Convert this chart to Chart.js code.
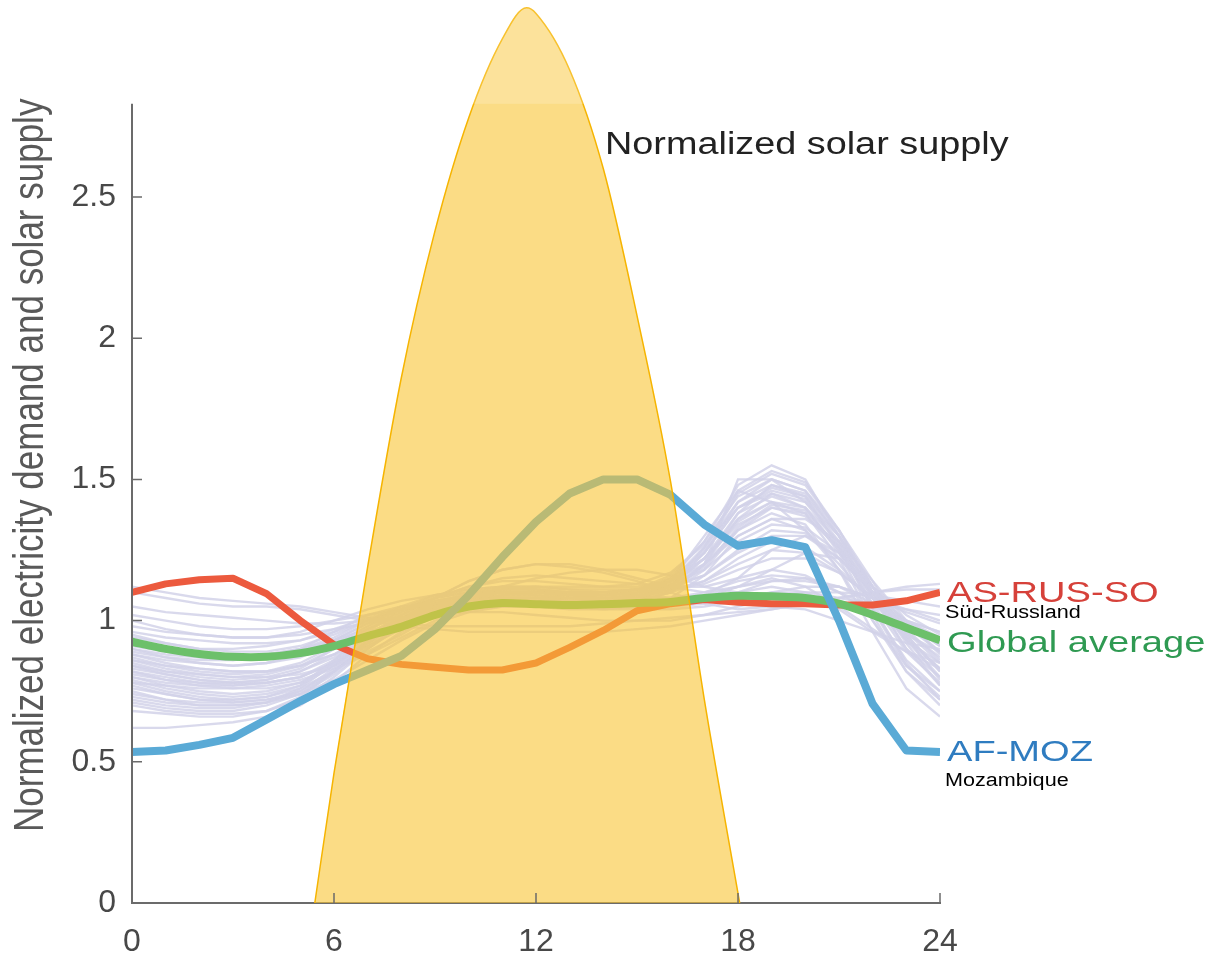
<!DOCTYPE html>
<html>
<head>
<meta charset="utf-8">
<title>Electricity demand and solar supply</title>
<script src="https://cdn.jsdelivr.net/npm/chart.js@4.4.1/dist/chart.umd.min.js"></script>
<style>
  html, body { margin: 0; padding: 0; background: #fff; }
  #wrap { width: 1206px; height: 957px; }
</style>
</head>
<body>
<div id="wrap"><canvas id="demandChart" width="1206" height="957"></canvas></div>
<script>
// hour of day
var hours = [0, 1, 2, 3, 4, 5, 6, 7, 8, 9, 10, 11, 12, 13, 14, 15, 16, 17, 18, 19, 20, 21, 22, 23, 24];
var xTicks = [0, 6, 12, 18, 24];
var yTicks = [0, 0.5, 1, 1.5, 2, 2.5];
var yAxisTop = 2.83;

// highlighted regions
var rusSouth = [1.10, 1.13, 1.145, 1.15, 1.095, 1.00, 0.915, 0.865, 0.845, 0.835, 0.825, 0.825, 0.85,
  0.905, 0.965, 1.035, 1.06, 1.075, 1.065, 1.06, 1.06, 1.055, 1.055, 1.07, 1.10];
var globalAvg = [0.925, 0.90, 0.882, 0.872, 0.872, 0.885, 0.91, 0.945, 0.978, 1.02, 1.05, 1.062, 1.058,
  1.055, 1.058, 1.062, 1.066, 1.08, 1.088, 1.086, 1.08, 1.06, 1.02, 0.975, 0.93];
var mozambique = [0.535, 0.54, 0.56, 0.585, 0.65, 0.715, 0.775, 0.825, 0.875, 0.97, 1.09, 1.225, 1.35,
  1.45, 1.50, 1.50, 1.445, 1.34, 1.265, 1.285, 1.26, 1.0, 0.705, 0.54, 0.535];

// solar supply curve
var solarHours = [5.43, 6, 7, 8, 9, 10, 11, 11.72, 12, 13, 14, 15, 16, 17, 18.05];
var solarSupply = [0, 0.46, 1.19, 1.86, 2.38, 2.78, 3.06, 3.17, 3.15, 2.95, 2.6, 2.08, 1.49, 0.72, 0];

// all other regions (thin background lines)
var regionProfiles = [
  [0.80,0.77,0.75,0.74,0.75,0.78,0.85,0.93,1.00,1.04,1.06,1.07,1.07,1.06,1.06,1.07,1.10,1.20,1.38,1.48,1.45,1.30,1.12,0.95,0.82],
  [0.85,0.82,0.80,0.79,0.80,0.83,0.90,0.97,1.02,1.05,1.07,1.08,1.08,1.07,1.07,1.08,1.12,1.22,1.35,1.42,1.38,1.25,1.10,0.97,0.86],
  [0.78,0.75,0.73,0.72,0.73,0.76,0.82,0.90,0.98,1.04,1.08,1.10,1.10,1.09,1.09,1.10,1.14,1.25,1.45,1.52,1.48,1.32,1.12,0.93,0.80],
  [0.90,0.87,0.85,0.84,0.85,0.88,0.93,0.99,1.04,1.07,1.09,1.10,1.10,1.09,1.09,1.09,1.10,1.14,1.22,1.28,1.26,1.18,1.08,0.99,0.91],
  [0.95,0.92,0.90,0.89,0.89,0.91,0.95,1.00,1.04,1.06,1.07,1.08,1.08,1.08,1.08,1.08,1.08,1.10,1.14,1.16,1.15,1.10,1.05,1.00,0.96],
  [0.75,0.72,0.70,0.70,0.71,0.75,0.83,0.93,1.02,1.08,1.12,1.14,1.14,1.13,1.12,1.12,1.14,1.22,1.36,1.42,1.40,1.28,1.10,0.92,0.77],
  [0.88,0.86,0.85,0.84,0.85,0.87,0.92,0.98,1.03,1.08,1.12,1.15,1.16,1.15,1.14,1.13,1.12,1.12,1.15,1.18,1.16,1.10,1.02,0.95,0.89],
  [1.02,1.00,0.98,0.97,0.97,0.98,1.00,1.02,1.04,1.05,1.06,1.06,1.05,1.05,1.05,1.05,1.05,1.06,1.08,1.10,1.10,1.08,1.06,1.04,1.02],
  [1.10,1.08,1.06,1.05,1.05,1.04,1.02,1.00,0.98,0.97,0.96,0.96,0.96,0.96,0.96,0.97,0.98,1.00,1.02,1.04,1.06,1.08,1.10,1.11,1.11],
  [0.70,0.68,0.67,0.67,0.68,0.72,0.80,0.90,0.99,1.05,1.08,1.10,1.10,1.09,1.09,1.10,1.15,1.28,1.48,1.55,1.50,1.30,1.05,0.85,0.72],
  [0.82,0.80,0.78,0.77,0.78,0.80,0.85,0.92,1.00,1.08,1.14,1.18,1.20,1.20,1.18,1.15,1.12,1.10,1.12,1.15,1.12,1.05,0.97,0.89,0.83],
  [0.92,0.89,0.87,0.86,0.87,0.90,0.96,1.02,1.05,1.06,1.06,1.06,1.05,1.04,1.04,1.05,1.08,1.16,1.30,1.36,1.32,1.20,1.06,0.97,0.92],
  [0.76,0.74,0.72,0.72,0.73,0.77,0.86,0.96,1.04,1.09,1.11,1.12,1.11,1.10,1.10,1.11,1.15,1.24,1.40,1.46,1.43,1.28,1.08,0.90,0.77],
  [0.98,0.96,0.95,0.94,0.94,0.95,0.97,0.99,1.01,1.03,1.04,1.05,1.05,1.05,1.04,1.04,1.04,1.05,1.07,1.10,1.12,1.12,1.08,1.03,0.99],
  [0.84,0.82,0.81,0.80,0.80,0.81,0.84,0.89,0.95,1.02,1.08,1.12,1.15,1.17,1.18,1.18,1.16,1.12,1.10,1.12,1.10,1.04,0.96,0.89,0.85],
  [0.72,0.70,0.69,0.69,0.71,0.76,0.85,0.95,1.02,1.06,1.08,1.08,1.07,1.06,1.06,1.07,1.10,1.18,1.32,1.40,1.38,1.22,1.00,0.82,0.72],
  [1.05,1.03,1.02,1.01,1.00,0.99,0.99,1.00,1.01,1.02,1.03,1.03,1.02,1.01,1.00,1.00,1.00,1.02,1.05,1.08,1.10,1.10,1.09,1.07,1.05],
  [0.86,0.83,0.81,0.80,0.81,0.84,0.90,0.97,1.03,1.07,1.09,1.10,1.10,1.10,1.10,1.11,1.13,1.18,1.28,1.34,1.33,1.24,1.10,0.96,0.87],
  [0.80,0.78,0.77,0.77,0.78,0.80,0.85,0.91,0.97,1.01,1.04,1.06,1.06,1.06,1.06,1.07,1.10,1.20,1.50,1.50,1.42,1.30,1.12,0.95,0.82],
  [0.94,0.92,0.90,0.90,0.91,0.93,0.97,1.01,1.04,1.06,1.07,1.07,1.06,1.05,1.05,1.05,1.06,1.08,1.12,1.18,1.24,1.22,1.12,1.02,0.95],
  [0.68,0.67,0.66,0.66,0.68,0.73,0.82,0.92,1.00,1.05,1.07,1.08,1.08,1.07,1.07,1.08,1.12,1.22,1.38,1.44,1.40,1.24,1.02,0.82,0.70],
  [0.90,0.88,0.87,0.87,0.88,0.90,0.93,0.97,1.02,1.08,1.14,1.18,1.20,1.19,1.17,1.14,1.10,1.06,1.04,1.05,1.04,1.00,0.96,0.92,0.90],
  [1.12,1.10,1.08,1.07,1.06,1.05,1.03,1.01,0.99,0.98,0.98,0.98,0.98,0.98,0.99,1.00,1.01,1.02,1.03,1.04,1.06,1.08,1.10,1.12,1.13],
  [0.88,0.85,0.83,0.82,0.82,0.84,0.88,0.94,1.00,1.05,1.08,1.09,1.09,1.09,1.09,1.10,1.12,1.16,1.24,1.30,1.30,1.22,1.10,0.98,0.89],
  [0.78,0.77,0.76,0.76,0.77,0.79,0.83,0.88,0.94,1.00,1.04,1.06,1.07,1.07,1.07,1.08,1.12,1.26,1.42,1.50,1.46,1.32,1.14,0.94,0.79],
  [0.96,0.94,0.93,0.92,0.92,0.93,0.96,1.00,1.04,1.07,1.09,1.10,1.10,1.09,1.08,1.08,1.08,1.09,1.12,1.14,1.14,1.12,1.06,1.00,0.96],
  [0.74,0.72,0.71,0.71,0.72,0.74,0.79,0.86,0.93,0.99,1.03,1.05,1.06,1.06,1.06,1.08,1.14,1.30,1.46,1.42,1.32,1.18,1.00,0.84,0.75],
  [0.82,0.79,0.77,0.76,0.76,0.78,0.84,0.92,1.00,1.06,1.10,1.12,1.12,1.11,1.10,1.09,1.08,1.09,1.15,1.25,1.30,1.24,1.10,0.94,0.83],
  [0.62,0.62,0.63,0.64,0.66,0.70,0.78,0.88,0.96,1.02,1.06,1.08,1.08,1.08,1.08,1.09,1.12,1.20,1.32,1.38,1.34,1.18,0.96,0.76,0.66],
  [1.00,0.97,0.95,0.94,0.94,0.96,1.00,1.04,1.07,1.09,1.10,1.10,1.09,1.08,1.07,1.06,1.06,1.07,1.10,1.14,1.15,1.12,1.08,1.04,1.00],
  [0.83,0.81,0.79,0.78,0.79,0.82,0.88,0.95,1.01,1.05,1.08,1.09,1.09,1.08,1.08,1.09,1.13,1.24,1.40,1.47,1.44,1.30,1.12,0.96,0.85],
  [0.79,0.76,0.74,0.73,0.74,0.77,0.84,0.93,1.01,1.06,1.09,1.11,1.11,1.10,1.10,1.11,1.16,1.28,1.44,1.50,1.46,1.30,1.09,0.90,0.80],
  [0.87,0.84,0.82,0.81,0.82,0.85,0.91,0.98,1.04,1.08,1.10,1.11,1.11,1.10,1.10,1.11,1.14,1.22,1.34,1.40,1.37,1.26,1.12,0.99,0.89],
  [0.73,0.71,0.70,0.70,0.71,0.74,0.81,0.90,0.98,1.03,1.06,1.07,1.07,1.07,1.07,1.08,1.12,1.24,1.42,1.48,1.44,1.26,1.04,0.86,0.75],
  [0.91,0.89,0.88,0.87,0.88,0.90,0.94,1.00,1.05,1.09,1.11,1.12,1.12,1.11,1.11,1.11,1.12,1.16,1.25,1.32,1.31,1.22,1.10,1.00,0.93],
  [0.81,0.79,0.78,0.78,0.79,0.82,0.87,0.94,1.00,1.04,1.06,1.07,1.07,1.07,1.07,1.08,1.11,1.19,1.33,1.41,1.39,1.26,1.08,0.93,0.83],
  [0.77,0.74,0.72,0.71,0.72,0.75,0.82,0.91,0.99,1.05,1.09,1.11,1.12,1.12,1.12,1.13,1.17,1.27,1.40,1.45,1.40,1.25,1.06,0.89,0.78],
  [0.86,0.84,0.83,0.82,0.82,0.84,0.88,0.94,1.00,1.05,1.08,1.10,1.10,1.10,1.10,1.11,1.14,1.20,1.30,1.36,1.36,1.28,1.14,1.00,0.88],
  [0.93,0.90,0.88,0.87,0.87,0.89,0.93,0.99,1.04,1.08,1.10,1.11,1.11,1.10,1.10,1.10,1.11,1.14,1.20,1.25,1.24,1.17,1.08,1.00,0.94],
  [0.71,0.69,0.68,0.68,0.70,0.74,0.82,0.92,1.00,1.05,1.07,1.08,1.08,1.07,1.07,1.08,1.11,1.20,1.36,1.45,1.42,1.27,1.04,0.84,0.73],
  [0.89,0.87,0.86,0.86,0.87,0.89,0.92,0.96,1.00,1.04,1.07,1.09,1.10,1.10,1.10,1.10,1.11,1.13,1.18,1.22,1.22,1.17,1.08,0.99,0.91],
  [0.84,0.81,0.79,0.78,0.78,0.80,0.86,0.94,1.01,1.06,1.09,1.10,1.10,1.09,1.09,1.10,1.14,1.26,1.46,1.53,1.49,1.32,1.10,0.93,0.85]
];

function toPoints(xs, ys) {
  return ys.map(function (v, i) { return { x: xs[i], y: v }; });
}

var datasets = [];

datasets.push({
  label: 'Normalized solar supply',
  data: toPoints(solarHours, solarSupply),
  borderColor: '#f6b400',
  borderWidth: 1.5,
  backgroundColor: 'rgba(248, 197, 52, 0.6)',
  fill: 'origin',
  cubicInterpolationMode: 'monotone',
  pointRadius: 0,
  clip: false,
  order: 0
});

datasets.push({
  label: 'AF-MOZ',
  data: toPoints(hours, mozambique),
  borderColor: '#5aaad6',
  borderWidth: 8,
  borderJoinStyle: 'round',
  pointRadius: 0,
  order: 1
});
datasets.push({
  label: 'Global average',
  data: toPoints(hours, globalAvg),
  borderColor: '#6cc06a',
  borderWidth: 8,
  borderJoinStyle: 'round',
  tension: 0.2,
  pointRadius: 0,
  order: 2
});
datasets.push({
  label: 'AS-RUS-SO',
  data: toPoints(hours, rusSouth),
  borderColor: '#ec5a3e',
  borderWidth: 7,
  borderJoinStyle: 'round',
  pointRadius: 0,
  order: 3
});

regionProfiles.forEach(function (profile, i) {
  datasets.push({
    label: 'region ' + (i + 1),
    data: toPoints(hours, profile),
    borderColor: 'rgba(210, 210, 233, 0.85)',
    borderWidth: 2.4,
    pointRadius: 0,
    order: 10
  });
});

// text drawn with a slight horizontal stretch
function wideText(ctx, text, x, y, font, color, sx) {
  ctx.save();
  ctx.font = font;
  ctx.fillStyle = color;
  ctx.textAlign = 'left';
  ctx.textBaseline = 'middle';
  ctx.translate(x, y);
  ctx.scale(sx, 1);
  ctx.fillText(text, 0, 0);
  ctx.restore();
}

var axisDecor = {
  id: 'axisDecor',
  afterDatasetsDraw: function (chart) {
    var ctx = chart.ctx;
    var area = chart.chartArea;
    var y = chart.scales.y;
    var topPx = y.getPixelForValue(yAxisTop);
    // the part of the sun curve above the axes is a little paler
    ctx.save();
    ctx.fillStyle = 'rgba(255, 255, 255, 0.18)';
    ctx.fillRect(area.left, 0, area.right - area.left, topPx);
    ctx.restore();
  },
  afterDraw: function (chart) {
    var ctx = chart.ctx;
    var x = chart.scales.x;
    var y = chart.scales.y;
    var x0 = x.getPixelForValue(0);
    var y0 = y.getPixelForValue(0);
    var topPx = y.getPixelForValue(yAxisTop);

    ctx.save();
    ctx.strokeStyle = '#6b6b6b';
    ctx.lineWidth = 2;
    ctx.beginPath();
    ctx.moveTo(x0, y0 + 1);
    ctx.lineTo(x0, topPx);
    ctx.stroke();

    // inward tick marks
    ctx.lineWidth = 1.5;
    ctx.beginPath();
    yTicks.forEach(function (v) {
      if (v === 0) return;
      var py = y.getPixelForValue(v);
      ctx.moveTo(x0, py);
      ctx.lineTo(x0 + 10, py);
    });
    xTicks.forEach(function (v) {
      if (v === 0) return;
      var px = x.getPixelForValue(v);
      ctx.moveTo(px, y0);
      ctx.lineTo(px, y0 - 10);
    });
    ctx.stroke();
    ctx.restore();

    // y axis title
    ctx.save();
    ctx.font = '35px "Liberation Sans", Arial, sans-serif';
    ctx.fillStyle = '#595959';
    ctx.textAlign = 'left';
    ctx.textBaseline = 'alphabetic';
    ctx.translate(43, 832);
    ctx.rotate(-Math.PI / 2);
    ctx.scale(1, 1.2);
    ctx.fillText('Normalized electricity demand and solar supply', 0, 0);
    ctx.restore();

    wideText(ctx, 'Normalized solar supply', 605, 145,
      '31px "Liberation Sans", Arial, sans-serif', '#222222', 1.22);

    // labels at the end of the highlighted lines
    var xEnd = x.getPixelForValue(24) + 7;
    var big = '30px "Liberation Sans", Arial, sans-serif';
    var small = '18px "Liberation Sans", Arial, sans-serif';
    var yRus = y.getPixelForValue(rusSouth[rusSouth.length - 1]);
    var yAvg = y.getPixelForValue(globalAvg[globalAvg.length - 1]);
    var yMoz = y.getPixelForValue(mozambique[mozambique.length - 1]);
    wideText(ctx, 'AS-RUS-SO', xEnd, yRus + 1, big, '#d6413a', 1.27);
    wideText(ctx, 'Süd-Russland', xEnd - 2, yRus + 21, small, '#000000', 1.2);
    wideText(ctx, 'Global average', xEnd, yAvg + 3, big, '#2f9a52', 1.27);
    wideText(ctx, 'AF-MOZ', xEnd, yMoz + 1, big, '#2f7cc0', 1.27);
    wideText(ctx, 'Mozambique', xEnd - 2, yMoz + 29, small, '#000000', 1.2);
  }
};

var ctx = document.getElementById('demandChart').getContext('2d');
var demandChart = new Chart(ctx, {
  type: 'line',
  data: { datasets: datasets },
  options: {
    responsive: false,
    animation: false,
    layout: { padding: { top: 5, right: 266, bottom: 0, left: 0 } },
    plugins: {
      legend: { display: false },
      tooltip: { enabled: false }
    },
    scales: {
      x: {
        type: 'linear',
        min: 0,
        max: 24,
        afterBuildTicks: function (scale) {
          scale.ticks = xTicks.map(function (v) { return { value: v }; });
        },
        afterFit: function (scale) {
          scale.height = 54;
          scale.paddingLeft = 0;
          scale.paddingRight = 0;
        },
        grid: { display: false, drawTicks: false },
        border: { display: true, color: '#6b6b6b', width: 2 },
        ticks: {
          padding: 20,
          color: '#484848',
          font: { family: '"Liberation Sans", Arial, sans-serif', size: 32 }
        }
      },
      y: {
        type: 'linear',
        min: 0,
        max: 3.18,
        afterBuildTicks: function (scale) {
          scale.ticks = yTicks.map(function (v) { return { value: v }; });
        },
        afterFit: function (scale) {
          scale.width = 132;
          scale.paddingTop = 0;
          scale.paddingBottom = 0;
        },
        grid: { display: false, drawTicks: false },
        border: { display: false },
        ticks: {
          padding: 16,
          color: '#484848',
          font: { family: '"Liberation Sans", Arial, sans-serif', size: 32 },
          callback: function (v) { return String(v); }
        }
      }
    }
  },
  plugins: [axisDecor]
});
</script>
</body>
</html>
